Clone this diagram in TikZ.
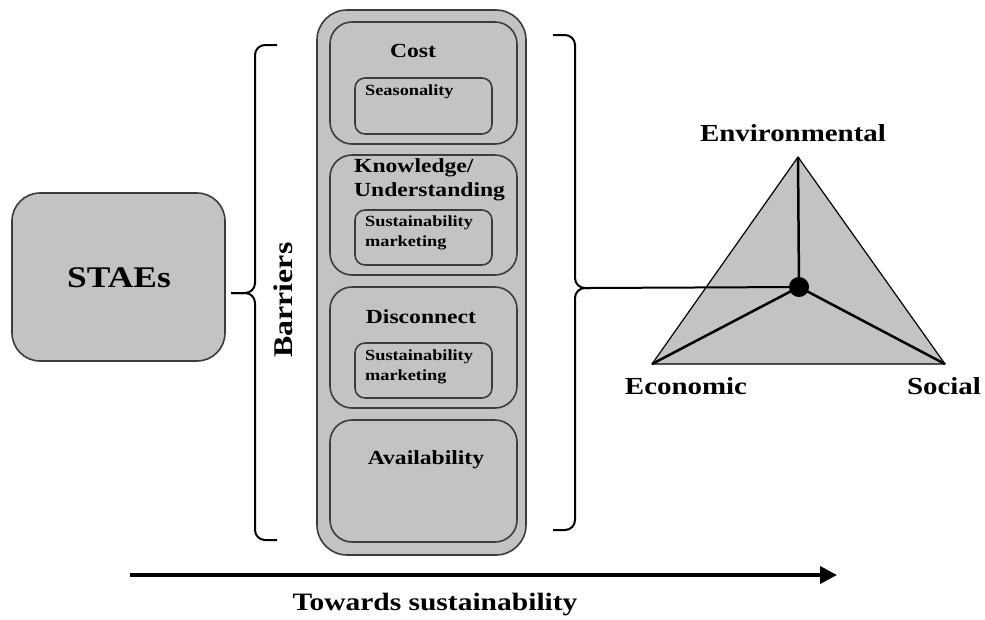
\documentclass[tikz,border=0pt]{standalone}
\usepackage{fontspec}
\setmainfont{Liberation Serif}[FakeStretch=1.18]
\usetikzlibrary{arrows.meta}
\definecolor{boxgray}{HTML}{C3C3C3}
\definecolor{edgegray}{HTML}{3C3C3C}
\newcommand\bsize[1]{\fontsize{#1}{#1}\selectfont\bfseries}

\begin{document}
\begin{tikzpicture}[x=1pt,y=-1pt,
  panel/.style={draw=edgegray, line width=1.6pt, fill=boxgray,
    rounded corners=#1, inner sep=0pt, outer sep=0pt},
  panel/.default=22pt,
  mainlbl/.style={inner sep=0pt, font=\bsize{20}},
  sublbl/.style={inner sep=0pt, anchor=west, align=left,
    font=\fontsize{15.5}{20}\selectfont\bfseries},
  bracket/.style={line width=2pt, rounded corners=10pt},
  spoke/.style={line width=2.5pt},
  axis/.style={line width=4pt, -{Triangle[length=17pt,width=17pt]}},
  pillar/.style={inner sep=0pt, font=\bsize{24.5}}
]
\useasboundingbox (0,0) rectangle (985,619);

% actor box
\node[panel=28pt, minimum width=213pt, minimum height=168pt] (staes) at (118.5,277) {};
\node[inner sep=0pt, font=\bsize{30}] (staestxt) at (119,278) {STAEs};

% left bracket
\draw[bracket] (277,45) -- (255,45) -- (255,293) -- (231,293);
\draw[bracket] (231,293) -- (255,293) -- (255,540) -- (277,540);
\node[rotate=90, inner sep=0pt, font=\bsize{27}] (barriers) at (283,300) {Barriers};

% barrier column
\node[panel=30pt, minimum width=209pt, minimum height=545pt] (column) at (421.5,282.5) {};

\node[panel, minimum width=187pt, minimum height=122pt] (cost) at (423.5,83) {};
\node[panel=10pt, minimum width=137pt, minimum height=56pt] (seas) at (423.5,106) {};
\node[mainlbl] (costtxt) at (413,51) {Cost};
\node[sublbl] (seastxt) at (365,92) {Seasonality};

\node[panel, minimum width=187pt, minimum height=120pt] (know) at (423.5,215) {};
\node[panel=10pt, minimum width=137pt, minimum height=55pt] (smone) at (423.5,237.5) {};
\node[mainlbl, anchor=west, align=left, font=\fontsize{20}{24}\selectfont\bfseries]
  (knowtxt) at (354,180) {Knowledge/\\Understanding};
\node[sublbl] (smonetxt) at (365,233) {Sustainability\\marketing};

\node[panel, minimum width=187pt, minimum height=121pt] (disc) at (423.5,347.5) {};
\node[panel=10pt, minimum width=137pt, minimum height=55pt] (smtwo) at (423.5,370.5) {};
\node[mainlbl] (disctxt) at (421,317) {Disconnect};
\node[sublbl] (smtwotxt) at (365,367) {Sustainability\\marketing};

\node[panel, minimum width=187pt, minimum height=122pt] (avail) at (423.5,481) {};
\node[mainlbl] (availtxt) at (426,460) {Availability};

% right bracket
\draw[bracket] (553,35) -- (575,35) -- (575,288) -- (590,288);
\draw[bracket] (590,288) -- (575,288) -- (575,530) -- (553,530);
\coordinate (rtip) at (588,288);

% sustainability triangle
\coordinate (env) at (798,157);
\coordinate (eco) at (652,364);
\coordinate (soc) at (945,364);
\coordinate (hub) at (799,287);
\draw[fill=boxgray, line width=1.2pt, line join=round] (env) -- (eco) -- (soc) -- cycle;
\draw[line width=2pt] (rtip) -- (hub);
\draw[spoke] (hub) -- (env);
\draw[spoke] (hub) -- (eco);
\draw[spoke] (hub) -- (soc);
\node[circle, fill=black, inner sep=0pt, minimum size=20pt] (hubdot) at (hub) {};

\node[pillar] (envtxt) at (793,133) {Environmental};
\node[pillar] (ecotxt) at (686,386) {Economic};
\node[pillar] (soctxt) at (944,386) {Social};

% direction arrow
\coordinate (astart) at (130,575);
\coordinate (aend) at (837,575);
\draw[axis] (astart) -- (aend);
\node[inner sep=0pt, font=\bsize{25}] (towards) at (435,605) {Towards sustainability};

\end{tikzpicture}
\end{document}
